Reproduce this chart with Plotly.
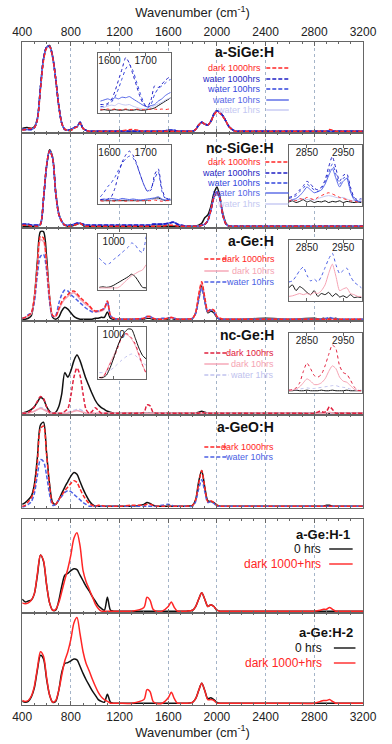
import plotly.graph_objects as go

# ── common wavenumber grid for the main panels (cm-1) ───────────────────────
WN = [400, 425, 450, 475, 500, 525, 550, 575, 600, 625,
      650, 675, 700, 725, 750, 775, 800, 825, 850, 875,
      900, 925, 950, 975, 1000, 1025, 1050, 1075, 1100, 1125, 1150,
      1200, 1300, 1400, 1425, 1450, 1475, 1500, 1550, 1600, 1625, 1650, 1675, 1700, 1750,
      1800, 1825, 1850, 1875, 1900, 1925, 1950, 1975, 2000, 2025, 2050, 2075, 2100, 2150, 2200,
      2400, 2600, 2800, 2850, 2875, 2900, 2925, 2950, 2975, 3000, 3200]

# ── a-SiGe:H ────────────────────────────────────────────────────────────────
asige_ref = [4, 5, 5, 4, 6, 15, 50, 82, 95, 97,
             85, 60, 30, 10, 3, 2, 2, 5, 6, 11,
             4, 2, 1, 1, 1, 1, 1, 1, 1, 1, 1,
             1, 1, 1, 1, 1, 1, 1, 1, 1, 1, 1, 1, 1, 1,
             1, 3, 8, 11, 9, 8, 12, 20, 24, 22, 18, 12, 6, 1, 1,
             1, 1, 1, 1, 1, 1, 1, 1, 1, 1, 1]
asige_dark1000 = [2, 3, 4, 4, 5, 14, 48, 80, 94, 96,
                  84, 60, 30, 10, 3, 2, 2, 4, 6, 10,
                  4, 2, 1, 1, 1, 1, 1, 1, 1, 1, 1,
                  1, 3, 1, 1, 1, 1, 1, 1, 1, 1, 1, 1, 1, 1,
                  1, 3, 8, 11, 9, 8, 12, 19, 23, 21, 17, 12, 6, 1, 1,
                  1, 1, 1, 1, 1, 1, 3, 2, 1, 1, 1]
asige_water = [3, 3, 3, 3, 5, 15, 50, 82, 95, 96,
               84, 60, 30, 10, 3, 2, 3, 5, 6, 11,
               4, 2, 1, 1, 1, 1, 1, 1, 1, 1, 1,
               1, 1, 1, 1, 1, 1, 1, 1, 2, 2, 2, 1, 1, 1,
               1, 3, 8, 11, 9, 8, 12, 20, 24, 22, 18, 12, 6, 1, 1,
               1, 1, 1, 1, 1, 1, 1, 1, 1, 1, 1]

# ── nc-SiGe:H ───────────────────────────────────────────────────────────────
ncsige_ref = [1, 1, 1, 1, 1, 1, 3, 30, 65, 83,
              75, 38, 15, 6, 2, 1, 1, 2, 3, 4,
              2, 1, 1, 1, 1, 1, 1, 1, 1, 1, 1,
              1, 1, 1, 1, 1, 1, 1, 1, 1, 1, 1, 1, 1, 1,
              1, 1, 2, 4, 10, 13, 22, 36, 43, 32, 14, 4, 1, 1, 1,
              1, 1, 1, 1, 1, 1, 1, 1, 1, 1, 1]
ncsige_dark1000 = [2, 2, 2, 1, 1, 1, 3, 31, 66, 82,
                   74, 37, 14, 6, 2, 1, 1, 2, 3, 4,
                   2, 1, 1, 1, 1, 1, 1, 1, 1, 1, 1,
                   1, 1, 1, 1, 1, 1, 1, 1, 2, 2, 2, 1, 1, 1,
                   1, 1, 1, 2, 3, 7, 18, 32, 38, 30, 12, 3, 1, 1, 1,
                   1, 1, 1, 1, 1, 1, 1, 1, 1, 1, 1]
ncsige_water = [3, 3, 3, 2, 2, 2, 3, 30, 65, 82,
                74, 37, 14, 6, 2, 2, 2, 3, 4, 4,
                3, 2, 2, 2, 2, 2, 2, 2, 2, 2, 2,
                2, 2, 2, 2, 2, 3, 3, 3, 4, 5, 5, 3, 2, 1,
                1, 1, 1, 2, 3, 7, 18, 32, 38, 30, 12, 3, 1, 1, 1,
                1, 1, 1, 1, 1, 1, 1, 1, 1, 1, 1]

# ── a-Ge:H ──────────────────────────────────────────────────────────────────
age_ref = [1, 1, 2, 5, 25, 65, 97, 97, 70, 25,
           3, 1, 3, 10, 14, 12, 8, 4, 2, 1,
           1, 1, 1, 1, 2, 2, 3, 3, 9, 2, 1,
           1, 1, 1, 2, 2, 1, 1, 1, 1, 2, 1, 1, 1, 1,
           2, 8, 24, 39, 22, 8, 10, 8, 3, 1, 1, 1, 1, 1, 1,
           2, 1, 2, 1, 2, 1, 2, 1, 2, 1, 1]
age_dark1000 = [2, 3, 5, 8, 25, 60, 92, 90, 62, 25,
                5, 4, 12, 20, 25, 28, 31, 32, 29, 25,
                22, 19, 16, 12, 10, 10, 11, 13, 21, 5, 2,
                1, 1, 2, 4, 4, 2, 1, 1, 2, 3, 2, 1, 1, 1,
                2, 8, 28, 42, 25, 10, 12, 11, 4, 2, 1, 1, 1, 1, 1,
                1, 1, 1, 1, 1, 1, 1, 1, 1, 1, 1]
age_dark10 = [2, 3, 5, 7, 24, 58, 88, 86, 60, 24,
              5, 4, 11, 18, 23, 26, 29, 30, 27, 23,
              20, 17, 15, 11, 9, 9, 10, 12, 19, 5, 2,
              1, 1, 2, 3, 3, 2, 1, 1, 2, 2, 2, 1, 1, 1,
              2, 8, 27, 41, 24, 9, 11, 10, 4, 2, 1, 1, 1, 1, 1,
              1, 1, 1, 1, 1, 1, 1, 1, 1, 1, 1]
age_water10 = [2, 3, 6, 8, 20, 50, 70, 72, 55, 20,
               4, 5, 18, 28, 33, 32, 28, 25, 22, 19,
               16, 13, 11, 9, 9, 10, 11, 13, 20, 5, 2,
               1, 1, 2, 4, 4, 2, 1, 2, 2, 3, 2, 1, 1, 1,
               2, 7, 22, 35, 20, 9, 11, 9, 3, 1, 1, 1, 1, 1, 1,
               1, 1, 1, 1, 1, 2, 3, 2, 1, 1, 1]

# ── nc-Ge:H ─────────────────────────────────────────────────────────────────
ncge_ref = [1, 2, 3, 5, 8, 13, 18, 16, 8, 3,
            1, 2, 8, 22, 45, 40, 47, 58, 64, 58,
            48, 38, 30, 22, 15, 10, 7, 5, 3, 2, 1,
            1, 1, 1, 1, 1, 1, 1, 1, 1, 1, 1, 1, 1, 1,
            1, 1, 2, 3, 2, 1, 1, 1, 1, 1, 1, 1, 1, 1, 1,
            1, 1, 1, 1, 1, 1, 1, 1, 1, 1, 1]
ncge_dark100 = [1, 1, 2, 4, 8, 14, 19, 17, 8, 2,
                1, 1, 1, 1, 3, 6, 20, 40, 50, 42,
                22, 5, 1, 3, 7, 4, 1, 1, 1, 1, 1,
                1, 1, 2, 10, 9, 2, 1, 1, 1, 1, 1, 1, 1, 1,
                1, 1, 1, 2, 1, 1, 1, 1, 1, 1, 1, 1, 1, 1, 1,
                1, 1, 1, 3, 2, 3, 8, 5, 1, 1, 1]
ncge_dark10 = [1, 1, 1, 2, 3, 5, 6, 5, 3, 1,
               1, 1, 1, 1, 1, 1, 2, 3, 4, 3,
               2, 1, 1, 1, 1, 1, 1, 1, 1, 1, 1,
               1, 1, 1, 1, 1, 1, 1, 1, 1, 1, 1, 1, 1, 1,
               1, 1, 1, 1, 1, 1, 1, 1, 1, 1, 1, 1, 1, 1, 1,
               1, 1, 1, 1, 1, 1, 2, 1, 1, 1, 1]
ncge_water1 = [1, 1, 2, 2, 3, 5, 7, 6, 4, 2,
               1, 1, 1, 1, 1, 2, 3, 4, 5, 5,
               3, 1, 1, 1, 1, 1, 1, 1, 1, 1, 1,
               1, 1, 1, 1, 1, 1, 1, 1, 1, 1, 1, 1, 1, 1,
               1, 1, 1, 1, 1, 1, 1, 1, 1, 1, 1, 1, 1, 1, 1,
               1, 1, 1, 1, 1, 1, 1, 1, 1, 1, 1]

# ── a-GeO:H ─────────────────────────────────────────────────────────────────
ageo_ref = [3, 5, 8, 12, 25, 55, 90, 93, 60, 25,
            5, 3, 8, 15, 22, 28, 34, 38, 36, 28,
            20, 13, 7, 3, 1, 1, 1, 1, 1, 1, 1,
            1, 1, 3, 5, 4, 2, 1, 1, 1, 1, 1, 1, 1, 1,
            2, 8, 28, 40, 22, 7, 6, 5, 2, 1, 1, 1, 1, 1, 1,
            1, 1, 1, 1, 1, 2, 2, 1, 1, 1, 1]
ageo_dark1000 = [1, 2, 6, 10, 22, 50, 86, 89, 58, 24,
                 4, 3, 8, 13, 18, 22, 26, 29, 27, 20,
                 13, 8, 4, 2, 1, 2, 2, 1, 1, 1, 1,
                 1, 2, 2, 3, 3, 2, 1, 1, 1, 1, 1, 1, 1, 1,
                 2, 8, 26, 40, 22, 6, 7, 5, 2, 1, 1, 1, 1, 1, 1,
                 1, 1, 1, 1, 1, 1, 1, 1, 1, 1, 1]
ageo_water10 = [0, 1, 3, 6, 15, 35, 52, 50, 35, 14,
                2, 3, 8, 12, 16, 18, 17, 14, 11, 8,
                5, 3, 1, 1, 1, 1, 1, 1, 1, 1, 1,
                1, 1, 1, 1, 1, 1, 1, 2, 3, 2, 1, 1, 1, 1,
                1, 6, 20, 30, 17, 5, 6, 4, 1, 1, 1, 1, 1, 1, 1,
                1, 1, 1, 1, 1, 1, 1, 1, 1, 1, 1]

# ── a-Ge:H-1 / a-Ge:H-2 ─────────────────────────────────────────────────────
age1_0h = [14, 11, 12, 13, 20, 40, 62, 55, 30, 10,
           2, 2, 12, 28, 40, 42, 45, 47, 46, 40,
           34, 28, 23, 17, 12, 7, 4, 2, 16, 2, 1,
           1, 1, 1, 1, 1, 1, 1, 1, 1, 1, 1, 1, 1, 1,
           2, 6, 14, 21, 14, 6, 8, 6, 2, 1, 1, 1, 1, 1, 1,
           1, 1, 1, 1, 1, 1, 1, 1, 1, 1, 1]
age1_dark = [10, 9, 10, 13, 20, 42, 62, 56, 30, 10,
             2, 3, 10, 22, 35, 47, 62, 80, 86, 72,
             45, 33, 25, 17, 9, 4, 1, 1, 1, 1, 1,
             1, 1, 5, 16, 13, 3, 1, 1, 6, 11, 5, 1, 1, 1,
             2, 6, 14, 21, 14, 6, 8, 6, 2, 1, 1, 1, 1, 1, 1,
             1, 1, 1, 2, 3, 3, 5, 3, 1, 1, 1]
age2_0h = [3, 2, 3, 8, 18, 38, 54, 50, 28, 10,
           2, 3, 15, 35, 45, 46, 48, 50, 49, 42,
           34, 27, 21, 15, 10, 5, 3, 2, 11, 2, 1,
           1, 1, 1, 1, 1, 1, 1, 1, 1, 1, 1, 1, 1, 1,
           2, 6, 15, 23, 15, 6, 7, 5, 2, 1, 1, 1, 1, 1, 1,
           1, 1, 1, 1, 1, 1, 1, 1, 1, 1, 1]
age2_dark = [4, 3, 4, 9, 20, 40, 58, 53, 30, 10,
             2, 4, 15, 32, 48, 58, 72, 90, 96, 78,
             58, 45, 37, 28, 20, 13, 8, 5, 3, 1, 1,
             1, 1, 5, 16, 14, 3, 1, 1, 7, 13, 6, 1, 1, 1,
             2, 6, 15, 23, 15, 5, 5, 4, 1, 1, 1, 1, 1, 1, 1,
             1, 1, 1, 3, 4, 4, 5, 3, 1, 1, 1]

# ── inset grids ─────────────────────────────────────────────────────────────
SI_IN = [1575, 1585, 1595, 1605, 1615, 1625, 1635, 1645, 1655, 1665, 1675,
         1685, 1695, 1705, 1715, 1725, 1735, 1745, 1755, 1765, 1775]
CH_IN = [2800, 2810, 2820, 2830, 2840, 2850, 2860, 2870, 2880, 2890, 2900,
         2910, 2920, 2930, 2940, 2950, 2960, 2970, 2980, 2990, 3000]
GE_IN = [960, 970, 980, 990, 1000, 1010, 1020, 1030, 1040, 1050, 1060, 1070, 1080, 1090]

# a-SiGe:H, 1600-1770 inset
i1_ref = [2, 3, 2, 2, 3, 2, 2, 3, 2, 2, 3, 2, 2, 3, 4, 6, 10, 14, 18, 22, 26]
i1_dark1000 = [3, 3, 4, 3, 4, 3, 3, 4, 3, 3, 4, 3, 3, 3, 4, 4, 3, 4, 3, 4, 3]
i1_water1000 = [12, 12, 14, 20, 35, 55, 75, 95, 85, 65, 45, 25, 12, 8, 20, 45, 42, 48, 55, 60, 62]
i1_water100 = [8, 9, 12, 16, 25, 40, 58, 75, 83, 72, 52, 32, 15, 6, 12, 30, 40, 45, 50, 55, 58]
i1_water10 = [18, 20, 22, 20, 24, 22, 25, 24, 26, 22, 18, 14, 10, 8, 10, 12, 18, 22, 28, 32, 35]
i1_water1 = [5, 7, 9, 11, 10, 14, 12, 11, 12, 9, 7, 5, 4, 5, 7, 10, 13, 16, 20, 23, 25]

# nc-SiGe:H, 1600-1770 inset
i2_ref = [3, 3, 3, 3, 3, 3, 3, 3, 3, 3, 3, 3, 3, 4, 5, 7, 8, 5, 3, 4, 3]
i2_dark1000 = [3, 2, 3, 3, 2, 3, 3, 2, 3, 3, 2, 3, 3, 3, 3, 4, 3, 2, 3, 3, 2]
i2_water1000 = [5, 5, 6, 10, 25, 50, 72, 85, 92, 85, 70, 50, 32, 20, 22, 50, 60, 25, 8, 6, 8]
i2_water100 = [10, 18, 28, 35, 45, 58, 70, 78, 83, 80, 68, 50, 32, 20, 25, 42, 55, 20, 6, 6, 10]
i2_water10 = [5, 6, 5, 7, 6, 5, 7, 6, 5, 6, 5, 4, 5, 6, 7, 8, 10, 6, 4, 5, 5]
i2_water1 = [4, 4, 5, 4, 5, 4, 5, 5, 4, 5, 4, 5, 4, 5, 5, 6, 5, 4, 5, 4, 4]

# nc-SiGe:H, 2800-3000 inset
c2_ref = [4, 6, 3, 5, 8, 4, 6, 3, 5, 4, 6, 3, 5, 4, 6, 3, 5, 4, 3, 4, 3]
c2_dark1000 = [5, 8, 6, 10, 8, 12, 10, 8, 12, 15, 18, 20, 18, 15, 12, 10, 8, 6, 5, 4, 5]
c2_water1000 = [12, 14, 18, 25, 32, 40, 35, 28, 25, 30, 42, 65, 83, 62, 40, 50, 53, 30, 12, 8, 10]
c2_water100 = [10, 12, 15, 22, 28, 35, 30, 25, 22, 28, 38, 55, 70, 52, 35, 45, 48, 25, 10, 6, 8]
c2_water10 = [5, 8, 10, 15, 22, 30, 25, 20, 22, 25, 35, 50, 62, 45, 30, 40, 45, 22, 8, 5, 5]
c2_water1 = [6, 8, 7, 9, 10, 8, 9, 7, 10, 12, 14, 15, 14, 12, 11, 12, 9, 7, 6, 6, 6]

# a-Ge:H insets
i3_ref = [2, 3, 2, 3, 6, 10, 14, 18, 22, 27, 22, 12, 2, 1]
i3_dark10 = [1, 1, 1, 1, 1, 1, 5, 12, 18, 24, 28, 32, 35, 45]
i3_water10 = [57, 50, 45, 48, 55, 60, 66, 72, 78, 86, 82, 72, 68, 98]
c3_ref = [20, 25, 15, 22, 18, 12, 8, 15, 5, 10, 8, 12, 5, 10, 4, 6, 3, 8, 3, 4, 3]
c3_dark10 = [5, 6, 8, 10, 8, 10, 8, 12, 10, 15, 25, 45, 61, 40, 15, 18, 20, 10, 8, 5, 5]
c3_water10 = [30, 32, 40, 50, 56, 42, 32, 35, 30, 40, 55, 70, 80, 60, 45, 50, 54, 40, 30, 25, 20]

# nc-Ge:H insets
i4_ref = [0, 0, 5, 20, 40, 62, 80, 92, 99, 98, 80, 60, 45, 38]
i4_dark100 = [0, 0, 12, 28, 40, 58, 78, 90, 88, 80, 68, 48, 25, 8]
i4_dark10 = [0, 2, 14, 30, 45, 62, 80, 88, 86, 78, 65, 45, 25, 10]
i4_water1 = [10, 10, 12, 15, 20, 27, 34, 40, 45, 48, 45, 38, 30, 25]
c4_ref = [1, 1, 2, 1, 1, 2, 1, 1, 1, 2, 1, 1, 2, 1, 1, 1, 2, 1, 1, 1, 1]
c4_dark100 = [2, 3, 6, 15, 35, 50, 40, 28, 25, 30, 45, 65, 82, 75, 45, 33, 30, 20, 8, 2, 1]
c4_dark10 = [1, 2, 4, 8, 15, 22, 18, 12, 12, 15, 22, 35, 45, 40, 25, 18, 16, 10, 4, 1, 1]
c4_water1 = [2, 2, 3, 4, 5, 6, 5, 5, 6, 7, 8, 9, 10, 10, 8, 7, 6, 4, 3, 2, 2]

# ── styles ──────────────────────────────────────────────────────────────────
BLACK, RED = '#111111', '#ff2626'
NAVY, BLUE, MIDBLUE, PALE = '#1f1fc4', '#3346dd', '#5566e6', '#c4c8f2'
PINK, CRIMSON, LAVENDER, GEBLUE = '#f5a3b3', '#e0203e', '#c0c2ee', '#4b5fe4'
FRAME, GRID = '#666666', '#a4b4c8'
DASH = '4px,2px'
FONT = 'Arial, Liberation Sans, sans-serif'

W, H = 392, 744
def px(x): return x / W
def py(y): return 1 - y / H

# panel frames in pixels (top, bottom)
PANELS = [(42, 133), (133, 228), (228, 321), (321, 415), (415, 508), (519, 613), (613, 705)]

SIGE_LEG = [('dark 1000hrs', RED, DASH), ('water 1000hrs', NAVY, DASH),
            ('water 100hrs', BLUE, DASH), ('water 10hrs', MIDBLUE, 'solid'),
            ('water 1hrs', PALE, 'solid')]

# series drawn per panel: (values, colour, dash) – reference (black) first
main_series = [
    [(asige_ref, BLACK, 'solid'), (asige_water, PALE, 'solid'), (asige_water, MIDBLUE, 'solid'),
     (asige_water, BLUE, DASH), (asige_water, NAVY, DASH), (asige_dark1000, RED, DASH)],
    [(ncsige_ref, BLACK, 'solid'), (ncsige_water, PALE, 'solid'), (ncsige_water, MIDBLUE, 'solid'),
     (ncsige_water, BLUE, DASH), (ncsige_water, NAVY, DASH), (ncsige_dark1000, RED, DASH)],
    [(age_ref, BLACK, 'solid'), (age_dark10, PINK, 'solid'), (age_water10, GEBLUE, DASH),
     (age_dark1000, RED, DASH)],
    [(ncge_ref, BLACK, 'solid'), (ncge_water1, LAVENDER, DASH), (ncge_dark10, PINK, 'solid'),
     (ncge_dark100, CRIMSON, DASH)],
    [(ageo_ref, BLACK, 'solid'), (ageo_water10, GEBLUE, DASH), (ageo_dark1000, RED, DASH)],
    [(age1_0h, BLACK, 'solid'), (age1_dark, RED, 'solid')],
    [(age2_0h, BLACK, 'solid'), (age2_dark, RED, 'solid')],
]

# insets: pixel box (l, r, t, b), x range, ticks, x grid, series
insets = [
    ((94, 171, 53, 113), [1569, 1769], [1600, 1700], SI_IN,
     [(i1_ref, BLACK, 'solid'), (i1_water1, PALE, 'solid'), (i1_water10, MIDBLUE, 'solid'),
      (i1_water100, BLUE, 'dot'), (i1_water1000, NAVY, 'dot'), (i1_dark1000, RED, 'dot')]),
    ((94, 171, 145, 204), [1569, 1769], [1600, 1700], SI_IN,
     [(i2_ref, BLACK, 'solid'), (i2_water1, PALE, 'solid'), (i2_water10, MIDBLUE, 'solid'),
      (i2_dark1000, RED, 'dot'), (i2_water100, BLUE, 'dot'), (i2_water1000, NAVY, 'dot')]),
    ((297, 375, 145, 206), [2800, 3002], [2850, 2950], CH_IN,
     [(c2_ref, BLACK, 'solid'), (c2_water1, PALE, 'solid'), (c2_water10, MIDBLUE, 'solid'),
      (c2_dark1000, RED, 'dot'), (c2_water100, BLUE, 'dot'), (c2_water1000, NAVY, 'dot')]),
    ((94, 145, 234, 290), [957, 1090], [1000], GE_IN,
     [(i3_ref, BLACK, 'solid'), (i3_dark10, PINK, 'solid'), (i3_water10, GEBLUE, 'dot')]),
    ((297, 375, 240, 301), [2800, 3002], [2850, 2950], CH_IN,
     [(c3_ref, BLACK, 'solid'), (c3_dark10, PINK, 'solid'), (c3_water10, GEBLUE, 'dot')]),
    ((94, 145, 327, 379), [957, 1090], [1000], GE_IN,
     [(i4_water1, LAVENDER, 'dot'), (i4_dark10, PINK, 'solid'), (i4_dark100, CRIMSON, 'dot'),
      (i4_ref, BLACK, 'solid')]),
    ((297, 375, 333, 393), [2800, 3002], [2850, 2950], CH_IN,
     [(c4_ref, BLACK, 'solid'), (c4_water1, LAVENDER, 'dot'), (c4_dark10, PINK, 'solid'),
      (c4_dark100, CRIMSON, 'dot')]),
]

# legends: title, title right edge/y, title size, text right edge, line x0/x1, font size, rows
legends = [
    ('a-SiGe:H', 283, 52, 14, 270, 273, 297, 9,
     [e + (y,) for e, y in zip(SIGE_LEG, [68, 79, 89, 100, 110])]),
    ('nc-SiGe:H', 283, 148, 14, 270, 272, 297, 9,
     [e + (y,) for e, y in zip(SIGE_LEG, [162, 173, 183, 193, 204])]),
    ('a-Ge:H', 283, 241, 14, 284, 207, 233, 9,
     [('dark 1000hrs', RED, DASH, 259), ('dark 10hrs', PINK, 'solid', 271),
      ('water 10hrs', GEBLUE, DASH, 282)]),
    ('nc-Ge:H', 283, 335, 14, 283, 207, 233, 9,
     [('dark 100hrs', CRIMSON, DASH, 353), ('dark 10hrs', PINK, 'solid', 364),
      ('water 1hrs', LAVENDER, DASH, 375)]),
    ('a-GeO:H', 283, 427, 14, 283, 207, 233, 9,
     [('dark 1000hrs', RED, DASH, 447), ('water 10hrs', GEBLUE, DASH, 457)]),
    ('a-Ge:H-1', 364, 534, 13, 333, 340, 365, 12,
     [('0 hrs', BLACK, 'solid', 549), ('dark 1000+hrs', RED, 'solid', 564)]),
    ('a-Ge:H-2', 368, 632, 13, 335, 345, 368, 12,
     [('0 hrs', BLACK, 'solid', 648), ('dark 1000+hrs', RED, 'solid', 663)]),
]

def ax(kind, n):
    return kind if n == 1 else f'{kind}{n}'

fig = go.Figure()
layout = dict(width=W, height=H, margin=dict(l=0, r=0, t=0, b=0),
              paper_bgcolor='white', plot_bgcolor='white', showlegend=False,
              font=dict(family=FONT, color='#222222', size=12))

# ── main panels ─────────────────────────────────────────────────────────────
for n, ((top, bot), series) in enumerate(zip(PANELS, main_series), 1):
    for vals, col, dash in series:
        assert len(vals) == len(WN)
        fig.add_trace(go.Scatter(
            x=WN, y=vals, mode='lines', xaxis=ax('x', n), yaxis=ax('y', n),
            line=dict(color=col, width=1.5, dash=dash, shape='spline', smoothing=0.8),
            hoverinfo='skip'))
    xa = dict(domain=[px(13), px(376)], range=[400, 3200], anchor=ax('y', n),
              tick0=400, dtick=400, ticks='inside', ticklen=4, tickcolor=FRAME,
              minor=dict(dtick=100, ticks='inside', ticklen=2, tickcolor=FRAME),
              showgrid=True, gridcolor=GRID, griddash='dot', gridwidth=1,
              showline=True, linecolor=FRAME, linewidth=1.2, mirror='ticks',
              zeroline=False, showticklabels=False)
    if n == 1 or n == len(PANELS):
        xa.update(showticklabels=True, side='top' if n == 1 else 'bottom',
                  tickfont=dict(size=12, color='#222222'),
                  title=dict(text='Wavenumber (cm<sup>-1</sup>)', font=dict(size=13), standoff=4))
    layout[ax('xaxis', n)] = xa
    layout[ax('yaxis', n)] = dict(domain=[py(bot), py(top)], range=[-1, 101], anchor=ax('x', n),
                                  showticklabels=False, showgrid=False, zeroline=False,
                                  showline=True, linecolor=FRAME, linewidth=1.2, mirror=True)

# ── insets ──────────────────────────────────────────────────────────────────
shapes, annotations = [], []
for k, ((l, r, t, b), rng, tv, grid, series) in enumerate(insets, len(PANELS) + 1):
    for vals, col, dash in series:
        assert len(vals) == len(grid)
        fig.add_trace(go.Scatter(
            x=grid, y=vals, mode='lines', xaxis=f'x{k}', yaxis=f'y{k}',
            line=dict(color=col, width=1.0, dash=dash, shape='spline', smoothing=0.6),
            hoverinfo='skip'))
    layout[f'xaxis{k}'] = dict(domain=[px(l), px(r)], range=rng, anchor=f'y{k}', side='top',
                               tickvals=tv, ticks='inside', ticklen=3, tickcolor=FRAME,
                               ticklabelposition='inside', tickfont=dict(size=10, color='#222222'),
                               showgrid=False, zeroline=False, showline=True,
                               linecolor=FRAME, linewidth=1, mirror='ticks')
    layout[f'yaxis{k}'] = dict(domain=[py(b), py(t)], range=[-3, 103], anchor=f'x{k}',
                               showticklabels=False, showgrid=False, zeroline=False,
                               showline=True, linecolor=FRAME, linewidth=1, mirror=True)

# ── legends drawn as text + line samples ───────────────────────────────────
for title, tx, ty, tsize, txt_r, lx0, lx1, fsize, rows in legends:
    annotations.append(dict(text=f'<b>{title}</b>', x=px(tx), y=py(ty), xref='paper', yref='paper',
                            xanchor='right', yanchor='middle', showarrow=False,
                            font=dict(size=tsize, color='#111111')))
    for label, col, dash, y in rows:
        annotations.append(dict(text=label, x=px(txt_r), y=py(y), xref='paper', yref='paper',
                                xanchor='right', yanchor='middle', showarrow=False,
                                font=dict(size=fsize, color=col)))
        shapes.append(dict(type='line', xref='paper', yref='paper', x0=px(lx0), x1=px(lx1),
                           y0=py(y), y1=py(y), line=dict(color=col, width=1.4, dash=dash)))

layout['shapes'] = shapes
layout['annotations'] = annotations
fig.update_layout(**layout)
# the page's default 8px body margin would push the figure out of the 392x744 window
fig.write_html('out.html', config={'displayModeBar': False},
               post_script="document.body.style.margin='0px';")
